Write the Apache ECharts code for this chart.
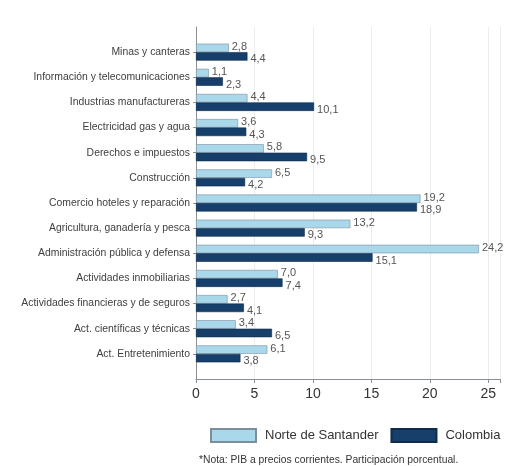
<!DOCTYPE html>
<html>
<head>
<meta charset="utf-8">
<script src="https://cdn.jsdelivr.net/npm/echarts@6/dist/echarts.min.js"></script>
<style>
html,body{margin:0;padding:0;background:#fff;}
#c{width:506px;height:466px;}
</style>
</head>
<body>
<div id="c"></div>
<script>
const categories = [
  'Minas y canteras',
  'Información y telecomunicaciones',
  'Industrias manufactureras',
  'Electricidad gas y agua',
  'Derechos e impuestos',
  'Construcción',
  'Comercio hoteles y reparación',
  'Agricultura, ganadería y pesca',
  'Administración pública y defensa',
  'Actividades inmobiliarias',
  'Actividades financieras y de seguros',
  'Act. científicas y técnicas',
  'Act. Entretenimiento'
];
const norteSantander = [2.8, 1.1, 4.4, 3.6, 5.8, 6.5, 19.2, 13.2, 24.2, 7.0, 2.7, 3.4, 6.1];
const colombia = [4.4, 2.3, 10.1, 4.3, 9.5, 4.2, 18.9, 9.3, 15.1, 7.4, 4.1, 6.5, 3.8];
const seriesNames = ['Norte de Santander', 'Colombia'];
const xTicks = [0, 5, 10, 15, 20, 25];
const note = '*Nota: PIB a precios corrientes. Participación porcentual.';

const FONT = '"Liberation Sans", Arial, sans-serif';
const pad = a => [null].concat(a, [null]);
const axisCats = [''].concat(categories, ['']);
const fmt = p => p.value == null ? '' : p.value.toFixed(1).replace('.', ',');

const chart = echarts.init(document.getElementById('c'), null, {renderer: 'canvas'});
chart.setOption({
  animation: false,
  backgroundColor: '#fff',
  grid: {left: 196, right: 6, top: 27, bottom: 87, containLabel: false},
  xAxis: {
    type: 'value', min: 0, max: 26, interval: 5,
    axisLine: {show: true, lineStyle: {color: '#8a8f96', width: 1}},
    axisTick: {show: true, length: 4, inside: false, lineStyle: {color: '#8a8f96'}},
    axisLabel: {
      color: '#333', fontSize: 14, fontFamily: FONT, margin: 8,
      formatter: v => xTicks.indexOf(v) >= 0 ? String(v) : ''
    },
    splitLine: {show: true, lineStyle: {color: '#ececec', width: 1}}
  },
  yAxis: {
    type: 'category', inverse: true, boundaryGap: false, data: axisCats,
    axisLine: {show: true, lineStyle: {color: '#8a8f96', width: 1}},
    axisTick: {show: true, length: 3, interval: (i) => i > 0 && i < axisCats.length - 1, lineStyle: {color: '#8a8f96'}},
    axisLabel: {color: '#404040', fontSize: 10.4, fontFamily: FONT, margin: 6, interval: 0},
    splitLine: {show: false}
  },
  legend: {
    data: seriesNames,
    top: 423, left: 205, width: 320,
    itemWidth: 45, itemHeight: 13, itemGap: 12,
    icon: 'rect',
    textStyle: {color: '#333', fontSize: 13, fontFamily: FONT, padding: [0, 0, 0, 4]}
  },
  graphic: [{
    type: 'text', left: 199, top: 455,
    style: {text: note, fill: '#333', fontSize: 10.3, fontFamily: FONT}
  }],
  series: [
    {
      name: seriesNames[0], type: 'bar', data: pad(norteSantander),
      barWidth: 8.5, barGap: '0%',
      itemStyle: {color: '#a8d8ea', borderColor: '#7c8e9c', borderWidth: 0.6},
      label: {show: true, position: 'right', distance: 3, offset: [0, -1], color: '#555', fontSize: 11, fontFamily: FONT, formatter: fmt}
    },
    {
      name: seriesNames[1], type: 'bar', data: pad(colombia),
      barWidth: 8.5, barGap: '0%',
      itemStyle: {color: '#163f6b', borderColor: '#0e2b4a', borderWidth: 0.6},
      label: {show: true, position: 'right', distance: 3, offset: [0, 3], color: '#555', fontSize: 11, fontFamily: FONT, formatter: fmt}
    }
  ]
});
</script>
</body>
</html>
